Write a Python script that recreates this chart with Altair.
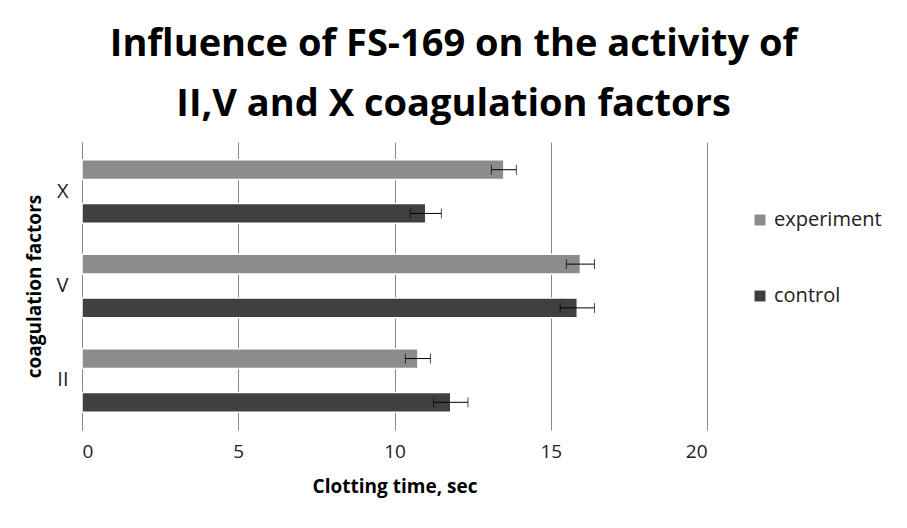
import altair as alt
import pandas as pd

factors = ["X", "X", "V", "V", "II", "II"]
series = ["experiment", "control", "experiment", "control", "experiment", "control"]
clotting = [13.5, 11.0, 15.95, 15.85, 10.75, 11.8]
errors = [0.4, 0.5, 0.45, 0.55, 0.4, 0.55]

df = pd.DataFrame({"factor": factors, "series": series, "time": clotting, "err": errors})
df["lo"] = df["time"] - df["err"]
df["hi"] = df["time"] + df["err"]

font = "Open Sans"
y = alt.Y("factor:N", sort=["X", "V", "II"], title="coagulation factors",
          scale=alt.Scale(paddingInner=0.05, paddingOuter=0.05),
          axis=alt.Axis(labelFontSize=20, labelFont=font, titleFont=font, titleFontSize=19,
                        titleFontWeight="bold", titleColor="black", labelColor="#222",
                        labelPadding=14, domainColor="#888", tickColor="#888", ticks=False,
                        titlePadding=12))
yoff = alt.YOffset("series:N", sort=["experiment", "control"],
                   scale=alt.Scale(paddingInner=0.55, paddingOuter=0.3))

base = alt.Chart(df).encode(y=y, yOffset=yoff)

bars = base.mark_bar(stroke="white", strokeWidth=1.5).encode(
    x=alt.X("time:Q", scale=alt.Scale(domain=[0, 20]), title="Clotting time, sec",
            axis=alt.Axis(values=[0, 5, 10, 15, 20], labelFontSize=19, labelFont=font,
                          titleFont=font, titleFontSize=19, titleFontWeight="bold",
                          titleColor="black", labelColor="#222", gridColor="#888",
                          domain=False, ticks=False, labelPadding=12, titlePadding=16)),
    color=alt.Color("series:N", sort=["experiment", "control"],
                    scale=alt.Scale(domain=["experiment", "control"], range=["#8c8c8c", "#404040"]),
                    legend=alt.Legend(title=None, labelFont=font, labelFontSize=20,
                                      symbolType="square", symbolSize=120, rowPadding=56,
                                      labelColor="#222", orient="none", legendX=668,
                                      legendY=68, symbolStrokeWidth=0))
)

rules = base.mark_rule(color="black", strokeWidth=1).encode(x="lo:Q", x2="hi:Q")
caps_lo = base.mark_tick(color="black", thickness=1, size=10).encode(x="lo:Q")
caps_hi = base.mark_tick(color="black", thickness=1, size=10).encode(x="hi:Q")

chart = (bars + rules + caps_lo + caps_hi).properties(
    width=625, height=288,
    title=alt.TitleParams(["Influence of FS-169 on the activity of", "II,V and X coagulation factors"],
                          font=font, fontSize=38, fontWeight="bold", color="black",
                          lineHeight=60, offset=18, anchor="middle", frame="bounds"),
    padding={"left": 17, "top": 18, "right": 5, "bottom": 5}
).configure_view(stroke=None)

chart.save("out.html", embed_options={"renderer": "svg", "actions": False})
